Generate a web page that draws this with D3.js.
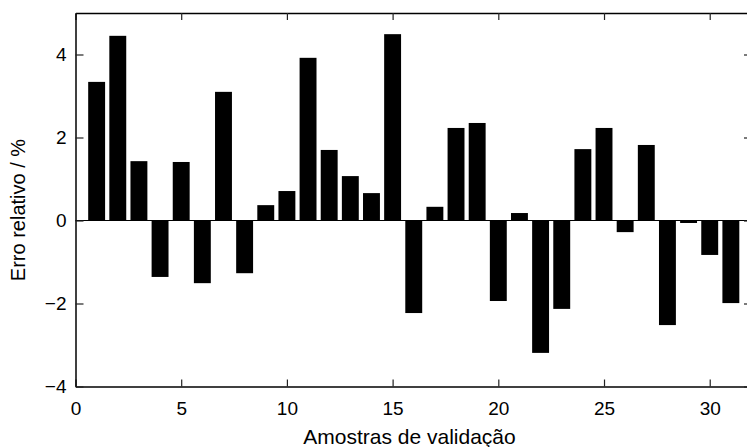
<!DOCTYPE html>
<html>
<head>
<meta charset="utf-8">
<script src="https://cdn.jsdelivr.net/npm/d3@7"></script>
<style>
  body { margin: 0; background: #fff; }
  svg { display: block; overflow: hidden; }
  text { font-family: "Liberation Sans", Arial, sans-serif; fill: #000; }
</style>
</head>
<body>
<div id="chart"></div>
<script>
// Relative error per validation sample
const samples = d3.range(1, 32);
const errors = [3.34, 4.45, 1.43, -1.36, 1.41, -1.51, 3.10, -1.27, 0.37, 0.71,
                3.92, 1.70, 1.07, 0.66, 4.49, -2.23, 0.33, 2.23, 2.35, -1.94,
                0.18, -3.19, -2.13, 1.72, 2.23, -0.28, 1.82, -2.52, -0.06, -0.83, -1.99];
const xTicks = [0, 5, 10, 15, 20, 25, 30];
const yTicks = [-4, -2, 0, 2, 4];

const width = 747, height = 447;
const plotLeft = 75.5, plotRight = 752, plotTop = 13, plotBottom = 386.5;

const svg = d3.select("#chart").append("svg")
    .attr("width", width)
    .attr("height", height);

const x = d3.scaleLinear().domain([0, 32]).range([plotLeft, plotRight]);
const y = d3.scaleLinear().domain([-4, 5]).range([plotBottom, plotTop]);

// bars
const barW = x(0.8) - x(0);
svg.selectAll(".bar")
    .data(samples)
    .enter().append("rect")
    .attr("class", "bar")
    .attr("x", d => x(d) - barW / 2)
    .attr("y", (d, i) => y(Math.max(0, errors[i])))
    .attr("width", barW)
    .attr("height", (d, i) => Math.abs(y(errors[i]) - y(0)))
    .attr("fill", "#000");

// zero baseline
svg.append("line")
    .attr("x1", plotLeft).attr("x2", plotRight)
    .attr("y1", y(0)).attr("y2", y(0))
    .attr("stroke", "#000")
    .attr("stroke-width", 1);

// axes, ticks pointing inward
const styleAxis = g => {
    g.select(".domain").attr("stroke", "#000").attr("stroke-width", 1.5);
    g.selectAll(".tick line").attr("stroke", "#222").attr("stroke-width", 1.2);
    g.selectAll(".tick text").style("font-size", "19px").attr("fill", "#000");
};

svg.append("g")
    .attr("transform", `translate(0,${plotBottom})`)
    .call(d3.axisBottom(x).tickValues(xTicks).tickSizeInner(-7).tickSizeOuter(0).tickPadding(15))
    .call(styleAxis);

svg.append("g")
    .attr("transform", `translate(0,${plotTop})`)
    .call(d3.axisTop(x).tickValues(xTicks).tickSizeInner(-7).tickSizeOuter(0).tickFormat(""))
    .call(styleAxis);

svg.append("g")
    .attr("transform", `translate(${plotLeft},0)`)
    .call(d3.axisLeft(y).tickValues(yTicks).tickSizeInner(-8).tickSizeOuter(0).tickPadding(9))
    .call(styleAxis);

svg.append("g")
    .attr("transform", `translate(${plotRight},0)`)
    .call(d3.axisRight(y).tickValues(yTicks).tickSizeInner(-8).tickSizeOuter(0).tickFormat(""))
    .call(styleAxis);

// axis labels
svg.append("text")
    .attr("x", 409.5)
    .attr("y", 444)
    .attr("text-anchor", "middle")
    .style("font-size", "21px")
    .text("Amostras de validação");

svg.append("text")
    .attr("transform", "translate(25,210) rotate(-90)")
    .attr("text-anchor", "middle")
    .style("font-size", "20px")
    .text("Erro relativo / %");
</script>
</body>
</html>
